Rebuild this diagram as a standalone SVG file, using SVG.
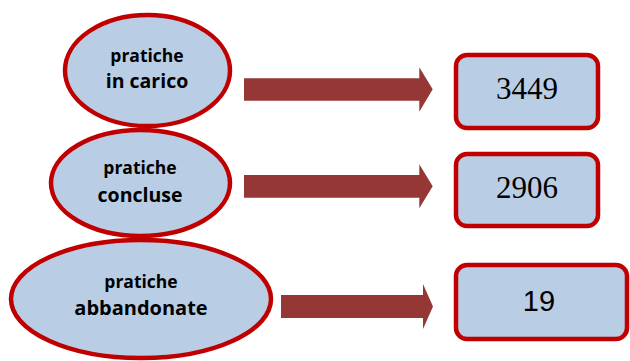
<svg xmlns="http://www.w3.org/2000/svg" width="630" height="361" viewBox="0 0 630 361">
<style>
.node{fill:#B9CDE5;stroke:#C00000;stroke-width:4.5}
.lbl{font-family:"Open Sans","Liberation Sans",Arial,sans-serif;font-weight:bold;fill:#000;text-anchor:middle}
.num{font-family:"Liberation Serif","Times New Roman",serif;font-size:31px;fill:#000;text-anchor:middle}
.arrow{fill:#953735}
</style>
<rect width="630" height="361" fill="#fff"/>
<g id="connectors">
<path class="arrow" d="M244,78.3 H419.3 V67.3 L432.7,89.3 L419.3,111.7 V100.7 H244 Z"/>
<path class="arrow" d="M244,175 H419.3 V164.3 L432.7,186.3 L419.3,208.3 V197.7 H244 Z"/>
<path class="arrow" d="M281,295 H423 V284 L433,306.5 L423,329 V318 H281 Z"/>
</g>
<g id="node-incarico">
<ellipse class="node" cx="147.5" cy="70.5" rx="82.5" ry="55.5"/>
<text class="lbl" x="147" y="62" font-size="17.5">pratiche</text>
<text class="lbl" x="147" y="88" font-size="19.5">in carico</text>
</g>
<g id="node-concluse">
<ellipse class="node" cx="140.5" cy="183" rx="89.5" ry="53"/>
<text class="lbl" x="140" y="174" font-size="17.5">pratiche</text>
<text class="lbl" x="140" y="202" font-size="19.5">concluse</text>
</g>
<g id="node-abbandonate">
<ellipse class="node" cx="141" cy="299" rx="130" ry="59"/>
<text class="lbl" x="141" y="288" font-size="17.5">pratiche</text>
<text class="lbl" x="141" y="315" font-size="20">abbandonate</text>
</g>
<g id="box-3449">
<rect class="node" x="456" y="55" width="142" height="73" rx="11"/>
<text class="num" x="527" y="99">3449</text>
</g>
<g id="box-2906">
<rect class="node" x="456" y="154" width="142" height="72" rx="11"/>
<text class="num" x="527" y="198">2906</text>
</g>
<g id="box-19">
<rect class="node" x="456" y="265" width="171" height="74" rx="11"/>
<text x="539" y="311" font-family="'Liberation Sans',Arial,sans-serif" font-size="29" text-anchor="middle" fill="#000">19</text>
</g>
</svg>
